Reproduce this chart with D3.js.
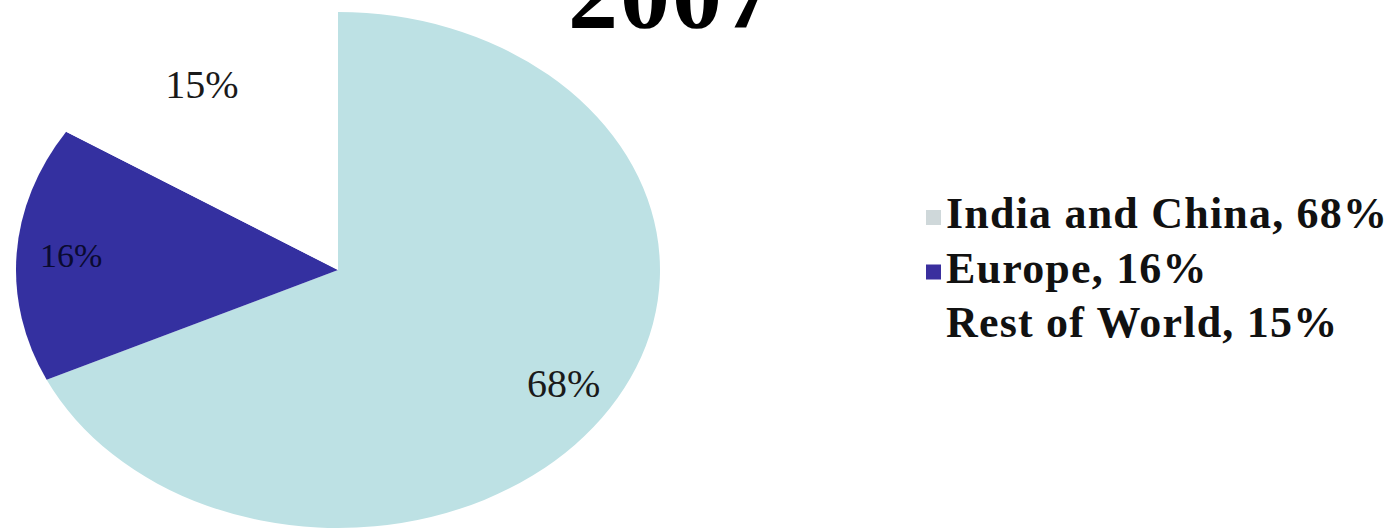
<!DOCTYPE html>
<html>
<head>
<meta charset="utf-8">
<script src="https://cdn.jsdelivr.net/npm/d3@7"></script>
<style>
	html, body { margin: 0; padding: 0; background: #fff; }
	svg { display: block; }
</style>
</head>
<body>
<script>

	// chart data
	var title = "2007";
	var regions = ["India and China", "Europe", "Rest of World"];
	var shares = [68, 16, 15];
	var sliceColors = ["#bde1e4", "#3430a0", "#ffffff"];
	var markerColors = ["#cfd8da", "#3a2f9e", null];

	var width = 1394,
		height = 529;

	var cx = 338,
		cy = 270,
		r = 258,
		stretch = 322 / 258; // the pie is drawn wider than tall

	var svg = d3.select("body").append("svg")
		.attr("width", width)
		.attr("height", height);

	var data = regions.map(function(d, i) {
		return { key: d, value: shares[i], color: sliceColors[i], marker: markerColors[i] };
	});

	// shares sum to 99, so the pie stops short of a full turn
	var pie = d3.pie()
		.sort(null)
		.value(function(d) { return d.value; })
		.endAngle(2 * Math.PI * d3.sum(shares) / 100);

	var arcs = pie(data);

	var arc = d3.arc()
		.innerRadius(0)
		.outerRadius(r);

	var labelArc = d3.arc()
		.innerRadius(r * 0.83)
		.outerRadius(r * 0.83);

	var g = svg.append("g")
		.attr("transform", "translate(" + cx + "," + cy + ") scale(" + stretch + ",1)");

	g.selectAll("path.slice")
		.data(arcs)
		.enter().append("path")
		.attr("class", "slice")
		.attr("d", arc)
		.style("fill", function(d) { return d.data.color; });

	// percentage labels, placed outside the scaled group so text is not stretched
	svg.selectAll("text.pct")
		.data(arcs)
		.enter().append("text")
		.attr("class", "pct")
		.attr("x", function(d) { return cx + labelArc.centroid(d)[0] * stretch; })
		.attr("y", function(d) { return cy + labelArc.centroid(d)[1]; })
		.attr("dy", "0.3em")
		.style("text-anchor", "middle")
		.style("font-family", "'Liberation Serif', 'DejaVu Serif', serif")
		.style("font-size", function(d, i) { return i == 1 ? "34px" : "40px"; })
		.style("fill", function(d, i) { return i == 1 ? "#0a0a30" : "#1a1a1a"; })
		.text(function(d) { return d.data.value + "%"; });

	// title, cut off by the top edge
	svg.append("text")
		.attr("x", 672)
		.attr("y", 27)
		.style("text-anchor", "middle")
		.style("font-family", "'Liberation Serif', 'DejaVu Serif', serif")
		.style("font-weight", "bold")
		.style("font-size", "100px")
		.style("letter-spacing", "2px")
		.style("fill", "#000")
		.text(title);

	// legend
	var legend = svg.selectAll("g.legend")
		.data(data)
		.enter().append("g")
		.attr("class", "legend")
		.attr("transform", function(d, i) { return "translate(946," + (228 + i * 54.5) + ")"; });

	legend.filter(function(d) { return d.marker; })
		.append("rect")
		.attr("x", -20)
		.attr("y", -18)
		.attr("width", 15)
		.attr("height", 15)
		.style("fill", function(d) { return d.marker; });

	legend.append("text")
		.attr("x", 0)
		.attr("y", 0)
		.style("font-family", "'Liberation Serif', 'DejaVu Serif', serif")
		.style("font-weight", "bold")
		.style("font-size", "44px")
		.style("letter-spacing", "1.2px")
		.style("fill", "#111")
		.text(function(d) { return d.key + ", " + d.value + "%"; });

</script>
</body>
</html>
